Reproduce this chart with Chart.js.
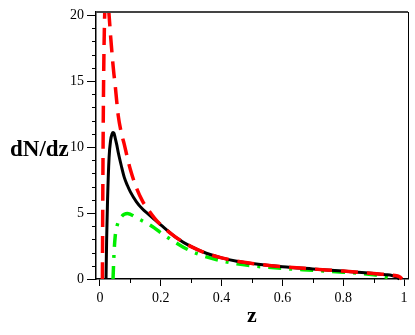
<!DOCTYPE html>
<html>
<head>
<meta charset="utf-8">
<script src="https://cdn.jsdelivr.net/npm/chart.js@4.4.0/dist/chart.umd.min.js"></script>
<style>
  html, body { margin: 0; padding: 0; background: #fff; }
</style>
</head>
<body>
<canvas id="chart" width="415" height="335"></canvas>
<script>
const zValues = [0.008, 0.010, 0.012, 0.015, 0.018, 0.020, 0.022, 0.025, 0.030, 0.035,
  0.040, 0.043, 0.046, 0.050, 0.055, 0.060, 0.070, 0.080, 0.090, 0.100,
  0.120, 0.140, 0.160, 0.180, 0.200, 0.250, 0.300, 0.350, 0.400, 0.450,
  0.500, 0.600, 0.700, 0.800, 0.900, 0.940, 0.960, 0.975, 0.985, 0.990, 0.993];
const redValues = [0, 9, 15, 19.5, 21.5, 22, 22, 21.3, 20, 18.4,
  17, 16.2, 15.5, 14.7, 13.5, 12.4, 11.1, 10.2, 9.2, 8.3,
  6.9, 5.9, 5.2, 4.6, 4.1, 3.15, 2.45, 1.95, 1.6, 1.35,
  1.18, 0.93, 0.76, 0.6, 0.42, 0.34, 0.3, 0.25, 0.17, 0.08, 0];
const blackValues = [null, null, null, null, null, 0, 3, 6, 9.2, 10.5,
  11.0, 11.1, 11.05, 10.7, 10.2, 9.6, 8.6, 7.7, 7.1, 6.6,
  5.85, 5.3, 4.9, 4.5, 4.1, 3.15, 2.45, 1.95, 1.6, 1.35,
  1.18, 0.93, 0.76, 0.6, 0.42, 0.33, 0.27, 0.16, 0, null, null];
const greenValues = [null, null, null, null, null, null, null, null, null, null,
  null, 0, 1.8, 3.2, 3.9, 4.3, 4.7, 4.9, 4.97, 4.9,
  4.65, 4.4, 4.15, 3.85, 3.5, 2.75, 2.1, 1.68, 1.38, 1.15,
  1.0, 0.8, 0.66, 0.52, 0.32, 0.15, 0, null, null, null, null];

const xTicks = [0, 0.2, 0.4, 0.6, 0.8, 1];
const xMinorTicks = [0.1, 0.3, 0.5, 0.7, 0.9];
const yTicks = [0, 5, 10, 15, 20];
const yMinorTicks = [1, 2, 3, 4, 6, 7, 8, 9, 11, 12, 13, 14, 16, 17, 18, 19];

const toPoints = vals => zValues.map((z, i) => ({ x: z, y: vals[i] }));
const serif = "'Liberation Serif', 'Times New Roman', serif";

// minor ticks, frame and the two axis titles
const extras = {
  id: "extras",
  afterDraw(chart) {
    const { ctx, chartArea: a, scales: { x, y } } = chart;
    ctx.save();
    ctx.strokeStyle = "#000";
    ctx.lineWidth = 1;
    yMinorTicks.forEach(v => {
      const py = Math.round(y.getPixelForValue(v)) + 0.5;
      ctx.beginPath(); ctx.moveTo(a.left - 4, py); ctx.lineTo(a.left, py); ctx.stroke();
    });
    xMinorTicks.forEach(v => {
      const px = Math.round(x.getPixelForValue(v)) + 0.5;
      ctx.beginPath(); ctx.moveTo(px, a.bottom); ctx.lineTo(px, a.bottom + 4); ctx.stroke();
    });
    // top and right frame
    ctx.strokeStyle = "#444";
    ctx.lineWidth = 2;
    ctx.beginPath(); ctx.moveTo(a.left, a.top); ctx.lineTo(a.right, a.top); ctx.stroke();
    ctx.strokeStyle = "#000";
    ctx.lineWidth = 1;
    ctx.beginPath(); ctx.moveTo(a.right + 0.5, a.top); ctx.lineTo(a.right + 0.5, a.bottom); ctx.stroke();

    ctx.fillStyle = "#000";
    ctx.font = "bold 23px " + serif;
    ctx.textAlign = "left";
    ctx.textBaseline = "alphabetic";
    ctx.fillText("dN/dz", 10, 156);
    ctx.font = "bold 22px " + serif;
    ctx.textAlign = "center";
    ctx.fillText("z", (a.left + a.right) / 2, 322);
    ctx.restore();
  }
};

new Chart(document.getElementById("chart"), {
  type: "line",
  data: {
    datasets: [
      {
        label: "red",
        data: toPoints(redValues),
        borderColor: "#ff0000",
        borderWidth: 3.5,
        borderDash: [17, 9],
        clip: { left: 5, top: 0, right: 5, bottom: 3 },
      },
      {
        label: "black",
        data: toPoints(blackValues),
        borderColor: "#000000",
        borderWidth: 3,
        clip: { left: 5, top: 0, right: 5, bottom: 3 },
      },
      {
        label: "green",
        data: toPoints(greenValues),
        borderColor: "#00ee00",
        borderWidth: 3.5,
        borderDash: [13, 8, 3, 8],
        clip: { left: 5, top: 0, right: 5, bottom: 3 },
      },
    ],
  },
  options: {
    responsive: false,
    animation: false,
    parsing: false,
    layout: { padding: { top: 12, right: 7, left: 0, bottom: 0 } },
    elements: {
      point: { radius: 0 },
      line: { cubicInterpolationMode: "monotone", fill: false },
    },
    plugins: { legend: { display: false }, tooltip: { enabled: false } },
    scales: {
      x: {
        type: "linear",
        min: -0.013,
        max: 1.013,
        afterBuildTicks: s => { s.ticks = xTicks.map(v => ({ value: v })); },
        afterFit: s => { s.height = 56; },
        grid: { drawOnChartArea: false, tickLength: 7, color: "#000" },
        border: { color: "#000", width: 1.5 },
        ticks: {
          color: "#000",
          padding: 4,
          maxRotation: 0,
          font: { family: serif, size: 14 },
          callback: v => String(+v.toFixed(1)),
        },
      },
      y: {
        min: 0,
        max: 20.23,
        afterBuildTicks: s => { s.ticks = yTicks.map(v => ({ value: v })); },
        afterFit: s => { s.width = 96; },
        grid: { drawOnChartArea: false, tickLength: 9, color: "#000" },
        border: { color: "#000", width: 1.5 },
        ticks: {
          color: "#000",
          padding: 3,
          font: { family: serif, size: 14 },
          callback: v => String(v),
        },
      },
    },
  },
  plugins: [extras],
});
</script>
</body>
</html>
